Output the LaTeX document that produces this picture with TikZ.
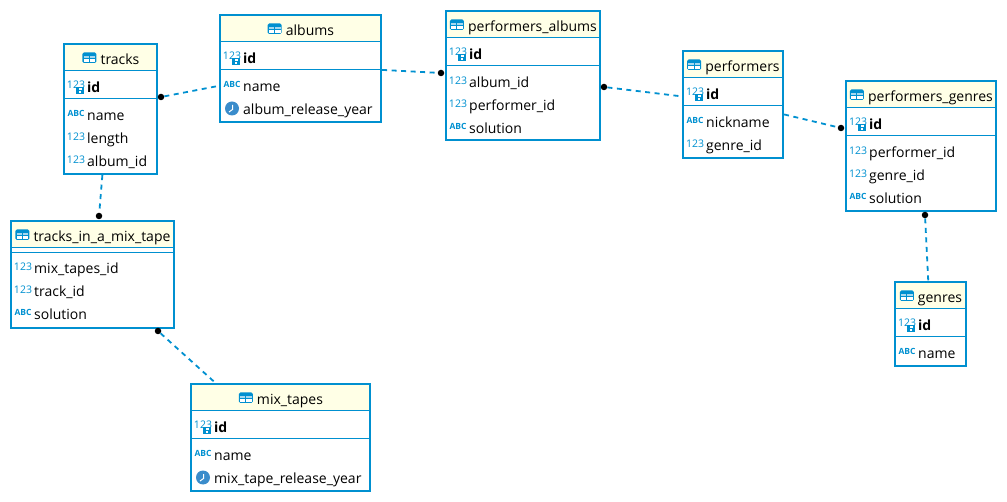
\documentclass[tikz,border=0pt]{standalone}
\usepackage{fontspec}
\setmainfont{Open Sans}
\usepackage{xcolor}
\usepackage{tikz}
\usetikzlibrary{positioning,calc}

\definecolor{erdblue}{HTML}{0090D0}
\definecolor{erdhead}{HTML}{FFFFE6}
\definecolor{erdclock}{HTML}{3A8CCB}

\tikzset{
  tablebox/.style={draw=erdblue,line width=2.2pt,inner sep=0pt},
  headtext/.style={anchor=base,inner sep=0pt,font=\fontsize{14}{16}\selectfont},
  rowtext/.style={anchor=base west,inner sep=0pt,font=\fontsize{14}{16}\selectfont},
  keytext/.style={rowtext,font=\fontsize{14}{16}\selectfont\bfseries},
  sepline/.style={draw=erdblue,line width=1pt},
  fkline/.style={draw=erdblue,line width=1.8pt,dash pattern=on 5pt off 4.5pt},
  fkdot/.style={circle,fill=black,inner sep=0pt,minimum size=6.5pt},
  numicon/.pic={\node[inner sep=0pt,text=erdblue,font=\fontsize{10.5}{11}\selectfont] (-n) at (0,-1.5) {123};},
  abcicon/.pic={\node[inner sep=0pt,text=erdblue,font=\fontsize{8.5}{10}\selectfont\bfseries] (-n) at (0,-1.5) {ABC};},
  keyicon/.pic={
    \node[inner sep=0pt,text=erdblue,font=\fontsize{10.5}{11}\selectfont] (-n) at (0,-2) {123};
    \fill[erdblue] (0,0) rectangle (8,7);
    \fill[white] (2.5,1.2) rectangle (5.5,3.2);
    \fill[white] (3.2,4.5) rectangle (4.8,5.7);
  },
  clockicon/.pic={
    \fill[erdclock] (0,-0.5) circle (7pt);
    \draw[white,line width=1pt] (0.5,-4) -- (0.5,0.5) -- (-3,3);
  },
  tableicon/.pic={
    \fill[erdblue,rounded corners=1.5pt] (-7,-5) rectangle (7,5.5);
    \fill[white!65!erdblue] (-5.8,-1.8) rectangle (-0.5,0.8);
    \fill[white!65!erdblue] (0.5,-1.8) rectangle (5.8,0.8);
    \fill[white] (-5.8,1.8) rectangle (-0.5,4.3);
    \fill[white] (0.5,1.8) rectangle (5.8,4.3);
  },
}

% #1 name, #2 left, #3 top, #4 right, #5 bottom, #6 first rule, #7 second rule, #8 title
\newcommand{\erdtable}[8]{
  \path[fill=erdhead] (#2,#3) rectangle (#4,#6);
  \node[tablebox,minimum width=#4pt-#2pt,minimum height=#5pt-#3pt] (#1) at ({(#2+#4)/2},{(#3+#5)/2}) {};
  \draw[sepline] (#2,#6) -- (#4,#6);
  \draw[sepline] (#2,#7) -- (#4,#7);
  \node[headtext] (#1title) at ({(#2+#4)/2+9.5},{(#3+#6)/2+7}) {#8};
  \pic at ($(#1title.base west)+(-11,-7)$) {tableicon};
}
% #1 style, #2 name, #3 icon, #4 x of icon, #5 y, #6 text
\newcommand{\erdrow}[6][rowtext]{
  \pic at (#4,#5) {#3};
  \node[#1] (#2) at (#4+11,#5+5.7) {#6};
}

\begin{document}
\begin{tikzpicture}[x=1pt,y=-1pt]
  \useasboundingbox (0,0) rectangle (1007,502);

  \erdtable{tracks}{64}{44}{157}{174}{71}{99}{tracks}
  \erdrow[keytext]{tracksid}{keyicon}{76}{87}{id}
  \erdrow{tracksname}{abcicon}{76}{115}{name}
  \erdrow{trackslength}{numicon}{76}{138}{length}
  \erdrow{tracksalbum}{numicon}{76}{161}{album\_id}

  \erdtable{albums}{220}{15}{381}{122}{42}{70}{albums}
  \erdrow[keytext]{albumsid}{keyicon}{232}{58}{id}
  \erdrow{albumsname}{abcicon}{232}{86}{name}
  \erdrow{albumsyear}{clockicon}{232}{109}{album\_release\_year}

  \erdtable{performersalbums}{446}{11}{600}{140}{38}{66}{performers\_albums}
  \erdrow[keytext]{paid}{keyicon}{458}{54}{id}
  \erdrow{paalbum}{numicon}{458}{82}{album\_id}
  \erdrow{paperformer}{numicon}{458}{105}{performer\_id}
  \erdrow{pasolution}{abcicon}{458}{128}{solution}

  \erdtable{performers}{683}{51}{783}{158}{78}{106}{performers}
  \erdrow[keytext]{performersid}{keyicon}{695}{94}{id}
  \erdrow{performersnick}{abcicon}{695}{122}{nickname}
  \erdrow{performersgenre}{numicon}{695}{145}{genre\_id}

  \erdtable{performersgenres}{846}{81}{996}{211}{108}{136}{performers\_genres}
  \erdrow[keytext]{pgid}{keyicon}{858}{124}{id}
  \erdrow{pgperformer}{numicon}{858}{152}{performer\_id}
  \erdrow{pggenre}{numicon}{858}{175}{genre\_id}
  \erdrow{pgsolution}{abcicon}{858}{198}{solution}

  \erdtable{genres}{895}{282}{966}{366}{309}{337}{genres}
  \erdrow[keytext]{genresid}{keyicon}{907}{325}{id}
  \erdrow{genresname}{abcicon}{907}{353}{name}

  \erdtable{mixtrack}{11}{221}{174}{328}{248}{253}{tracks\_in\_a\_mix\_tape}
  \erdrow{mtmix}{numicon}{23}{268}{mix\_tapes\_id}
  \erdrow{mttrack}{numicon}{23}{291}{track\_id}
  \erdrow{mtsolution}{abcicon}{23}{314}{solution}

  \erdtable{mixtapes}{191}{384}{370}{491}{411}{439}{mix\_tapes}
  \erdrow[keytext]{mixid}{keyicon}{203}{427}{id}
  \erdrow{mixname}{abcicon}{203}{455}{name}
  \erdrow{mixyear}{clockicon}{203}{478}{mix\_tape\_release\_year}

  % foreign keys
  \node[fkdot] (dottracks) at (161,97) {};
  \node[fkdot] (dotalbums) at (441,73) {};
  \node[fkdot] (dotpa) at (604,87) {};
  \node[fkdot] (dotpg) at (841,128) {};
  \node[fkdot] (dotgenres) at (925,215) {};
  \node[fkdot] (dotmix) at (99,216) {};
  \node[fkdot] (dotmt) at (158,331) {};

  \draw[fkline] (dottracks) -- (albums.192);
  \draw[fkline] (albums.-1) -- (dotalbums);
  \draw[fkline] (dotpa) -- (performers.171);
  \draw[fkline] (performers.-11) -- (dotpg);
  \draw[fkline] (dotgenres) -- (genres.93);
  \draw[fkline] (tracks.-97) -- (dotmix);
  \draw[fkline] (dotmt) -- (mixtapes.140);
\end{tikzpicture}
\end{document}
